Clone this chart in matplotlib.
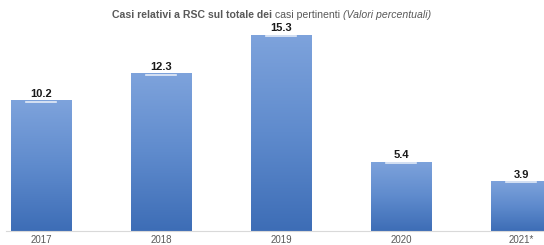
import matplotlib
matplotlib.use("Agg")
from matplotlib import pyplot as plt
from matplotlib.colors import LinearSegmentedColormap
import numpy as np

years = ["2017", "2018", "2019", "2020", "2021*"]
values = [10.2, 12.3, 15.3, 5.4, 3.9]

plt.rcParams['font.family'] = ['Liberation Sans', 'DejaVu Sans']

fig = plt.figure(figsize=(5.44, 2.45), dpi=100)
ax = fig.add_axes([0, 14 / 245, 1, 231 / 245])
x = np.arange(len(years))
bars = ax.bar(x, values, width=0.5, color='#5a86c8', edgecolor='none')

# vertical gradient inside each bar
grad = LinearSegmentedColormap.from_list('g', ['#3d6db6', '#5f8bcd', '#7ea3dc'])
img = np.linspace(0, 1, 256).reshape(-1, 1)
for b in bars:
    x0, w, h = b.get_x(), b.get_width(), b.get_height()
    im = ax.imshow(img, cmap=grad, origin='lower', aspect='auto',
                   extent=[x0, x0 + w, 0, h], zorder=2)
    im.set_clip_path(b)
    # small white mark under the value label
    ax.plot([x0 + w * 0.25, x0 + w * 0.75], [h - 0.12, h - 0.12],
            color='white', lw=1.2, zorder=3, alpha=0.8)
    ax.text(x0 + w / 2, h + 0.1, f"{h:.1f}", ha='center', va='bottom',
            fontsize=8, fontweight='bold', color='#1a1a1a', zorder=4)

ax.set_xlim(-41 / 120, 4.19)
ax.set_ylim(0, 18)
for s in ['top', 'right', 'left']:
    ax.spines[s].set_visible(False)
ax.spines['bottom'].set_color('#d9d9d9')
ax.spines['bottom'].set_bounds(-0.29, 4.19)
ax.set_yticks([])
ax.set_xticks(x)
ax.set_xticklabels(years, fontsize=7, color='#595959')
ax.tick_params(axis='x', length=0, pad=3)

# title in three styles
fig.canvas.draw()
r = fig.canvas.get_renderer()
parts = [("Casi relativi a RSC sul totale dei", dict(fontweight='bold')),
         (" casi pertinenti ", dict(fontweight='normal')),
         ("(Valori percentuali)", dict(fontstyle='italic'))]
texts = [fig.text(0, 0.94, p, fontsize=7.6, color='#595959', va='center', **kw)
         for p, kw in parts]
widths = [t.get_window_extent(r).width for t in texts]
pos = (fig.bbox.width - sum(widths)) / 2
for t, w in zip(texts, widths):
    t.set_x(pos / fig.bbox.width)
    pos += w

fig.savefig("out.png", dpi=100)
